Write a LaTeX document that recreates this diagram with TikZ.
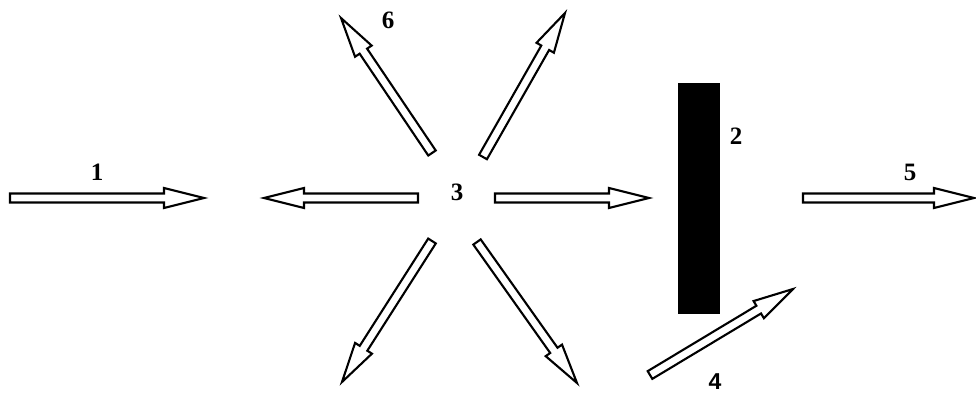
\documentclass[tikz,border=0pt]{standalone}
\usepackage{fontspec}
\setmainfont{Liberation Serif}
\usetikzlibrary{calc}
\tikzset{
  barrowstyle/.style={draw=black, fill=white, line width=2.1pt, line join=miter},
  numlabel/.style={font=\fontsize{25}{28}\selectfont\bfseries, inner sep=0pt},
  plate/.style={fill=black, draw=black},
}
\newcommand{\barrow}[3]{%
  \coordinate (#3h) at ($(#2)!40pt!(#1)$);
  \draw[barrowstyle] ($(#1)!4.5pt!90:(#2)$) -- ($(#3h)!4.5pt!90:(#2)$) -- ($(#3h)!10pt!90:(#2)$) -- (#2)
    -- ($(#3h)!10pt!-90:(#2)$) -- ($(#3h)!4.5pt!-90:(#2)$) -- ($(#1)!4.5pt!-90:(#2)$) -- cycle;
}
\begin{document}
\begin{tikzpicture}[x=1pt,y=-1pt]
\useasboundingbox (0,0) rectangle (976,396);
% coordinates
\coordinate (a1s) at (10,198);  \coordinate (a1e) at (204,198);
\coordinate (aLs) at (418,198); \coordinate (aLe) at (264,198);
\coordinate (aRs) at (495,198); \coordinate (aRe) at (649,198);
\coordinate (a5s) at (803,198); \coordinate (a5e) at (974,198);
\coordinate (a6s) at (432,153); \coordinate (a6e) at (341,18);
\coordinate (aURs) at (483,157); \coordinate (aURe) at (565,13);
\coordinate (aLLs) at (432,241); \coordinate (aLLe) at (342,382);
\coordinate (aLRs) at (477,242); \coordinate (aLRe) at (577,383);
\coordinate (a4s) at (650,375); \coordinate (a4e) at (793,289);
% arrows
\barrow{a1s}{a1e}{b1}
\barrow{aLs}{aLe}{bL}
\barrow{aRs}{aRe}{bR}
\barrow{a5s}{a5e}{b5}
\barrow{a6s}{a6e}{b6}
\barrow{aURs}{aURe}{bUR}
\barrow{aLLs}{aLLe}{bLL}
\barrow{aLRs}{aLRe}{bLR}
\barrow{a4s}{a4e}{b4}
% plate
\node[plate, minimum width=41pt, minimum height=230pt, inner sep=0pt] (plate) at (698.5,198) {};
% labels
\node[numlabel] (l1) at (97,172) {1};
\node[numlabel] (l2) at (736,136) {2};
\node[numlabel] (l3) at (457,192) {3};
\node[numlabel, font=\fontsize{23}{28}\selectfont\fontspec{Liberation Sans}\bfseries] (l4) at (715,382) {4};
\node[numlabel] (l5) at (910,172) {5};
\node[numlabel] (l6) at (388,20) {6};
\end{tikzpicture}
\end{document}
